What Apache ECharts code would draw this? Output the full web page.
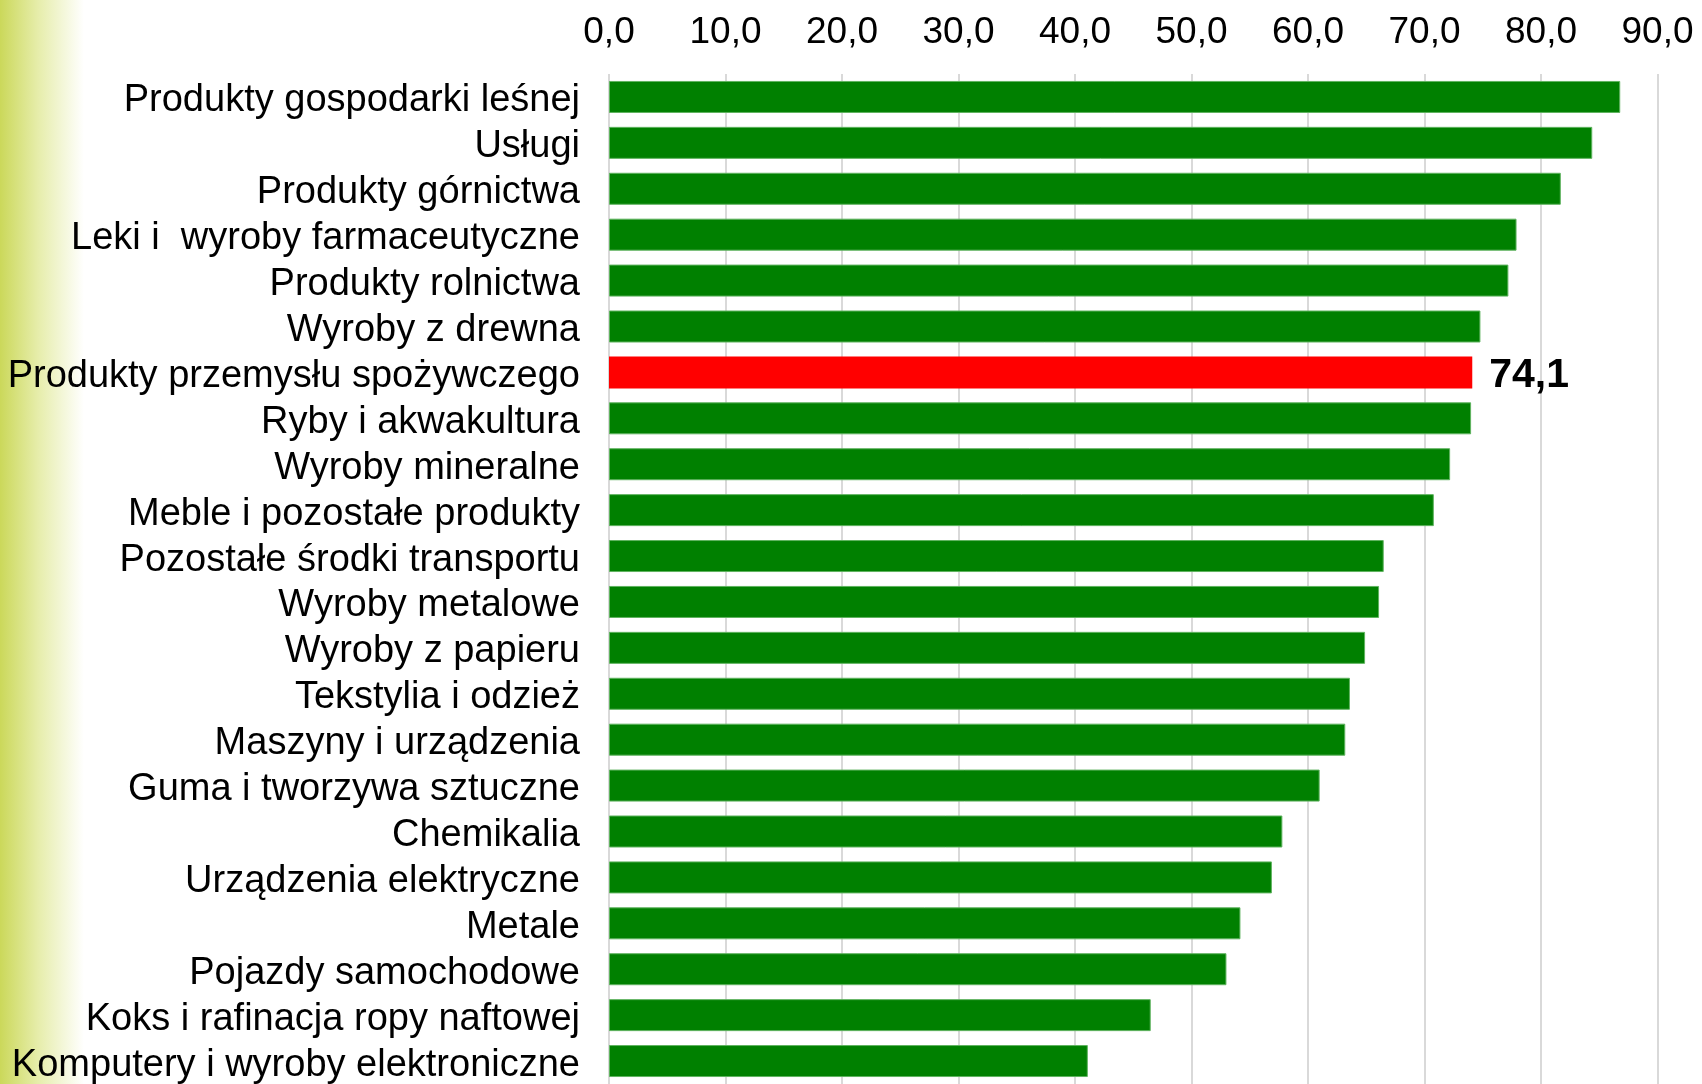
<!DOCTYPE html>
<html>
<head>
<meta charset="utf-8">
<script src="https://cdn.jsdelivr.net/npm/echarts@6/dist/echarts.min.js"></script>
<style>
  html, body { margin: 0; padding: 0; background: #ffffff; }
  #chart { width: 1702px; height: 1084px; }
</style>
</head>
<body>
<div id="chart"></div>
<script>
// Sectors, ordered top to bottom
const categories = [
  'Produkty gospodarki leśnej',
  'Usługi',
  'Produkty górnictwa',
  'Leki i  wyroby farmaceutyczne',
  'Produkty rolnictwa',
  'Wyroby z drewna',
  'Produkty przemysłu spożywczego',
  'Ryby i akwakultura',
  'Wyroby mineralne',
  'Meble i pozostałe produkty',
  'Pozostałe środki transportu',
  'Wyroby metalowe',
  'Wyroby z papieru',
  'Tekstylia i odzież',
  'Maszyny i urządzenia',
  'Guma i tworzywa sztuczne',
  'Chemikalia',
  'Urządzenia elektryczne',
  'Metale',
  'Pojazdy samochodowe',
  'Koks i rafinacja ropy naftowej',
  'Komputery i wyroby elektroniczne'
];

const values = [
  86.8, 84.4, 81.7, 77.9, 77.2, 74.8, 74.1, 74.0, 72.2, 70.8, 66.5,
  66.1, 64.9, 63.6, 63.2, 61.0, 57.8, 56.9, 54.2, 53.0, 46.5, 41.1
];

// The sector shown in red with its value printed
const highlighted = 'Produkty przemysłu spożywczego';

// Axis scale
const axisMin = 0;
const axisMax = 90;
const axisStep = 10;

const GREEN = '#008000';
const RED = '#ff0000';
const FONT = '"Liberation Sans", Arial, sans-serif';

const fmt = v => v.toFixed(1).replace('.', ',');

const barData = values.map((v, i) => {
  const isHi = categories[i] === highlighted;
  return {
    value: v,
    itemStyle: isHi
      ? { color: RED, borderWidth: 0 }
      : { color: GREEN, borderColor: '#5fb35f', borderWidth: 1 },
    label: isHi
      ? {
          show: true,
          position: 'right',
          distance: 17,
          formatter: p => '{v|' + fmt(p.value) + '}',
          rich: {
            v: {
              fontFamily: FONT,
              fontWeight: 'bold',
              fontSize: 41,
              color: '#000000',
              padding: [6, 0, 0, 0]
            }
          }
        }
      : { show: false }
  };
});

const chart = echarts.init(document.getElementById('chart'), null, { renderer: 'canvas' });

chart.setOption({
  backgroundColor: '#ffffff',
  animation: false,
  graphic: [{
    type: 'rect',
    z: -10,
    silent: true,
    shape: { x: 0, y: 0, width: 84, height: 1084 },
    style: {
      fill: new echarts.graphic.LinearGradient(0, 0, 1, 0, [
        { offset: 0, color: '#cbd85a' },
        { offset: 0.45, color: '#e6edaa' },
        { offset: 1, color: '#ffffff' }
      ])
    }
  }],
  grid: {
    left: 609,
    top: 74,
    width: 1048.5,
    height: 1014.2,
    containLabel: false
  },
  xAxis: {
    type: 'value',
    position: 'top',
    min: axisMin,
    max: axisMax,
    interval: axisStep,
    axisLine: { show: false },
    axisTick: { show: false },
    splitLine: { show: true, lineStyle: { color: '#d9d9d9', width: 2 } },
    axisLabel: {
      formatter: v => fmt(v),
      fontFamily: FONT,
      fontSize: 37,
      color: '#000000',
      margin: 23
    }
  },
  yAxis: {
    type: 'category',
    data: categories,
    inverse: true,
    axisLine: { show: false },
    axisTick: { show: false },
    splitLine: { show: false },
    axisLabel: {
      interval: 0,
      margin: 29,
      formatter: v => '{c|' + v + '}',
      rich: {
        c: {
          fontFamily: FONT,
          fontSize: 38,
          color: '#000000',
          padding: [8, 0, 0, 0]
        }
      }
    }
  },
  series: [{
    type: 'bar',
    data: barData,
    barWidth: 32,
    z: 3
  }]
});
</script>
</body>
</html>
